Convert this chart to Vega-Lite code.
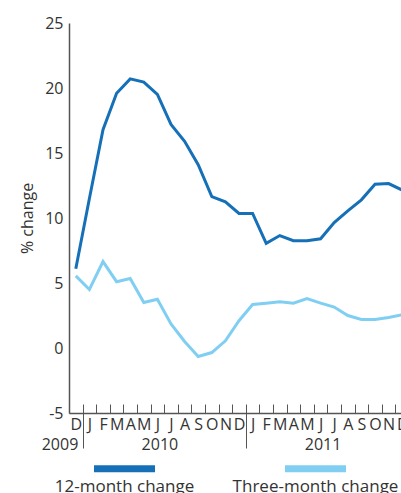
{
  "$schema": "https://vega.github.io/schema/vega-lite/v6.json",
  "width": 340,
  "height": 390,
  "autosize": {"type": "none"},
  "padding": {"left": 69, "top": 23, "right": 0, "bottom": 80},
  "background": "white",
  "config": {
    "font": "Open Sans",
    "view": {"stroke": null},
    "axis": {"labelFont": "Open Sans", "titleFont": "Open Sans", "labelColor": "#333333", "titleColor": "#333333"}
  },
  "data": {
    "values": [
      {"m": "2009-12", "12-month change": 6.1, "Three-month change": 5.55},
      {"m": "2010-01", "12-month change": 11.5, "Three-month change": 4.5},
      {"m": "2010-02", "12-month change": 16.8, "Three-month change": 6.65},
      {"m": "2010-03", "12-month change": 19.6, "Three-month change": 5.1},
      {"m": "2010-04", "12-month change": 20.7, "Three-month change": 5.35},
      {"m": "2010-05", "12-month change": 20.45, "Three-month change": 3.5},
      {"m": "2010-06", "12-month change": 19.5, "Three-month change": 3.75},
      {"m": "2010-07", "12-month change": 17.2, "Three-month change": 1.85},
      {"m": "2010-08", "12-month change": 15.9, "Three-month change": 0.5},
      {"m": "2010-09", "12-month change": 14.1, "Three-month change": -0.65},
      {"m": "2010-10", "12-month change": 11.65, "Three-month change": -0.35},
      {"m": "2010-11", "12-month change": 11.25, "Three-month change": 0.55},
      {"m": "2010-12", "12-month change": 10.35, "Three-month change": 2.1},
      {"m": "2011-01", "12-month change": 10.35, "Three-month change": 3.35},
      {"m": "2011-02", "12-month change": 8.05, "Three-month change": 3.45},
      {"m": "2011-03", "12-month change": 8.65, "Three-month change": 3.55},
      {"m": "2011-04", "12-month change": 8.25, "Three-month change": 3.45},
      {"m": "2011-05", "12-month change": 8.25, "Three-month change": 3.8},
      {"m": "2011-06", "12-month change": 8.4, "Three-month change": 3.45},
      {"m": "2011-07", "12-month change": 9.65, "Three-month change": 3.15},
      {"m": "2011-08", "12-month change": 10.55, "Three-month change": 2.5},
      {"m": "2011-09", "12-month change": 11.4, "Three-month change": 2.2},
      {"m": "2011-10", "12-month change": 12.6, "Three-month change": 2.2},
      {"m": "2011-11", "12-month change": 12.65, "Three-month change": 2.35},
      {"m": "2011-12", "12-month change": 12.15, "Three-month change": 2.55}
    ]
  },
  "transform": [{"fold": ["12-month change", "Three-month change"], "as": ["series", "v"]}],
  "resolve": {"axis": {"x": "independent"}},
  "layer": [
    {
      "transform": [{"filter": "datum.series == '12-month change'"}],
      "mark": {"type": "line", "strokeWidth": 3},
      "encoding": {
        "x": {
          "field": "m", "type": "ordinal", "bandPosition": 0.5,
          "scale": {"type": "band", "paddingInner": 0, "paddingOuter": 0},
          "axis": {
            "orient": "bottom", "offset": -9,
            "title": null, "domain": false,
            "labelExpr": "substring('JFMAMJJASOND', toNumber(substring(datum.value,5,7))-1, toNumber(substring(datum.value,5,7)))",
            "labelAngle": 0, "labelOverlap": false,
            "tickBand": "extent", "tickSize": 9, "tickColor": "#555555", "tickWidth": 1,
            "labelPadding": 3, "labelFontSize": 16
          }
        },
        "y": {
          "field": "v", "type": "quantitative",
          "scale": {"domain": [-5, 25], "nice": false, "zero": false},
          "axis": {
            "title": "% change", "titleFontSize": 16, "titleFontWeight": "normal", "titlePadding": 9,
            "values": [-5, 0, 5, 10, 15, 20, 25], "ticks": false, "grid": false,
            "labelExpr": "datum.value < 0 ? '-' + abs(datum.value) : datum.label",
            "labelPadding": 6, "labelFontSize": 16,
            "domainColor": "#555555", "domainWidth": 1.5
          }
        },
        "color": {
          "field": "series", "type": "nominal",
          "scale": {"domain": ["12-month change", "Three-month change"], "range": ["#1570b8", "#80cff2"]},
          "legend": {
            "title": null, "orient": "none", "legendX": 25, "legendY": 415,
            "direction": "horizontal", "symbolType": "M-1,-0.115H1V0.115H-1Z", "symbolSize": 3721, "symbolStrokeWidth": 0,
            "labelFontSize": 17, "labelColor": "#333333", "labelFont": "Open Sans", "labelLimit": 0,
            "labelAlign": "center", "labelBaseline": "top", "labelOffset": -30.5, "columnPadding": 37, "padding": 0,
            "encode": {
              "symbols": {"update": {"fill": {"scale": "color", "field": "value"}, "fillOpacity": {"value": 1}, "stroke": {"value": "transparent"}}},
              "labels": {"update": {"dy": {"value": 10}}}
            }
          }
        }
      }
    },
    {
      "transform": [{"filter": "datum.series == 'Three-month change'"}],
      "mark": {"type": "line", "strokeWidth": 3},
      "encoding": {
        "x": {
          "field": "m", "type": "ordinal", "bandPosition": 0.5,
          "scale": {"type": "band", "paddingInner": 0, "paddingOuter": 0},
          "axis": {
            "orient": "bottom",
            "title": null, "domain": true, "domainColor": "#555555", "domainWidth": 1.5,
            "labelAngle": 0, "labelOverlap": false,
            "labelExpr": "datum.value == '2009-12' ? '2009' : datum.value == '2010-06' ? '2010' : datum.value == '2011-06' ? '2011' : ''",
            "tickBand": "extent", "tickSize": 35, "tickColor": "#555555", "tickWidth": 1,
            "tickOpacity": {"condition": {"test": "datum.value == '2009-12' || datum.value == '2010-12'", "value": 1}, "value": 0},
            "labelPadding": -12, "labelFontSize": 16, "labelOffset": 2,
            "labelAlign": {"condition": {"test": "datum.value == '2009-12'", "value": "right"}, "value": "center"}
          }
        },
        "y": {"field": "v", "type": "quantitative"},
        "color": {"field": "series", "type": "nominal"}
      }
    }
  ]
}
